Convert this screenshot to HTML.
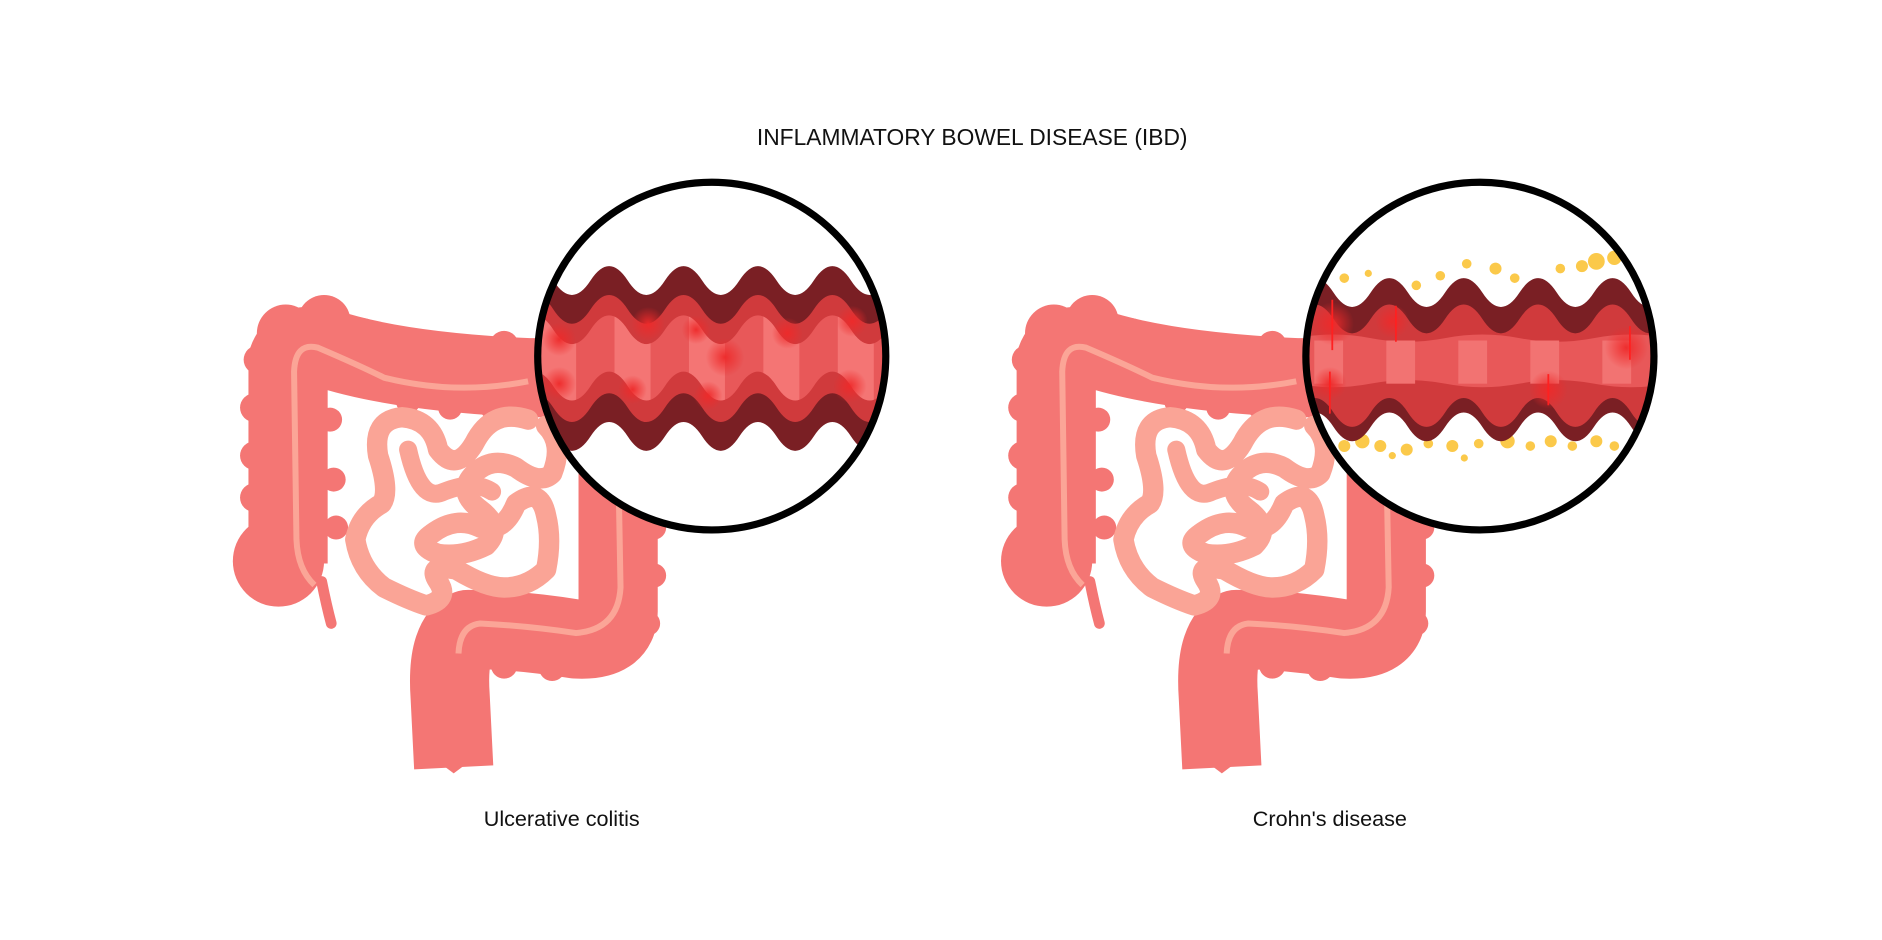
<!DOCTYPE html>
<html><head><meta charset="utf-8"><style>
html,body{margin:0;padding:0;background:#fff;width:1882px;height:940px;overflow:hidden}
svg{display:block}
</style></head><body>
<svg width="1882" height="940" viewBox="0 0 1568 784" preserveAspectRatio="none" xmlns="http://www.w3.org/2000/svg">
<defs>
<clipPath id="c1"><circle cx="593" cy="297" r="145"/></clipPath>
<clipPath id="c2"><circle cx="1233" cy="297" r="145"/></clipPath>
<clipPath id="p1"><path d="M430,275 q15.5,-24 31,0 t31,0 t31,0 t31,0 t31,0 t31,0 t31,0 t31,0 t31,0 t31,0 L740,322 q-15.5,24 -31,0 t-31,0 t-31,0 t-31,0 t-31,0 t-31,0 t-31,0 t-31,0 t-31,0 t-31,0 Z"/></clipPath>
<radialGradient id="spot"><stop offset="0" stop-color="#ee2a2a" stop-opacity="0.95"/><stop offset="1" stop-color="#ee2a2a" stop-opacity="0"/></radialGradient>
<g id="gut">
  <g fill="#f47674">
    <circle cx="232" cy="468" r="38"/>
    <circle cx="238" cy="278" r="24"/><circle cx="270" cy="268" r="22"/><circle cx="300" cy="285" r="20"/>
    <circle cx="215" cy="300" r="12"/><circle cx="212" cy="340" r="12"/><circle cx="212" cy="380" r="12"/><circle cx="212" cy="415" r="12"/>
    <circle cx="275" cy="350" r="10"/><circle cx="278" cy="400" r="10"/><circle cx="280" cy="440" r="10"/>
    <circle cx="330" cy="290" r="12"/><circle cx="360" cy="295" r="12"/><circle cx="390" cy="292" r="12"/><circle cx="420" cy="288" r="12"/>
    <circle cx="340" cy="335" r="10"/><circle cx="375" cy="340" r="10"/><circle cx="410" cy="340" r="10"/>
    <circle cx="540" cy="400" r="10"/><circle cx="545" cy="440" r="10"/><circle cx="545" cy="480" r="10"/><circle cx="540" cy="520" r="10"/>
    <circle cx="420" cy="555" r="11"/><circle cx="460" cy="557" r="11"/><circle cx="500" cy="548" r="11"/>
  </g>
  <path d="M240,470 L240,300 Q245,285 270,290 Q330,310 440,315 L500,315 Q515,340 515,380 L515,510 Q515,535 480,533 Q430,525 390,525 Q372,535 375,580 L378,640" fill="none" stroke="#f47674" stroke-width="66" stroke-linejoin="round"/>
  <path d="M352,560 Q350,610 358,630 L378,645 L398,630 Q405,610 405,560 Z" fill="#f47674"/>
  <path d="M268,485 Q272,505 276,520" stroke="#f47674" stroke-width="9" stroke-linecap="round" fill="none"/>
  <path d="M262,488 Q248,475 247,450 L245,310 Q246,285 265,290 Q300,305 320,315 Q380,330 440,318" fill="none" stroke="#fba597" stroke-width="5"/>
  <path d="M515,380 L517,490 Q515,525 480,528 Q440,522 400,520 Q383,522 382,545" fill="none" stroke="#fba597" stroke-width="5"/>
  <path d="M440,350 Q410,340 395,370 Q380,395 365,375 Q360,350 335,348 Q310,350 315,380 Q325,410 318,420 Q300,430 296,450 Q300,475 320,490 Q340,500 355,505 Q375,500 365,485 Q355,470 380,475 Q405,490 420,490 Q440,490 455,475 Q460,450 455,430 Q450,405 430,420 Q420,445 400,440 Q380,430 360,445 Q345,455 365,462 Q385,465 405,455 Q420,440 400,425 Q380,410 395,395 Q410,380 430,390 Q450,405 460,395 Q470,370 455,355" fill="none" stroke="#faa496" stroke-width="17" stroke-linejoin="round" stroke-linecap="round"/>
  <path d="M340,375 Q350,420 370,410 Q395,400 410,410" fill="none" stroke="#faa496" stroke-width="15" stroke-linecap="round"/>
</g>
</defs>

<text x="810" y="121" text-anchor="middle" font-family="Liberation Sans, sans-serif" font-size="19" fill="#111">INFLAMMATORY BOWEL DISEASE (IBD)</text>
<text x="468" y="689" text-anchor="middle" font-family="Liberation Sans, sans-serif" font-size="18" fill="#111">Ulcerative colitis</text>
<text x="1108" y="689" text-anchor="middle" font-family="Liberation Sans, sans-serif" font-size="18" fill="#111">Crohn's disease</text>

<use href="#gut"/>
<use href="#gut" transform="translate(640,0)"/>

<circle cx="593" cy="297" r="145" fill="#fff"/>
<g clip-path="url(#c1)">
  <path d="M430,234 q15.5,-24 31,0 t31,0 t31,0 t31,0 t31,0 t31,0 t31,0 t31,0 t31,0 t31,0 L740,364 q-15.5,24 -31,0 t-31,0 t-31,0 t-31,0 t-31,0 t-31,0 t-31,0 t-31,0 t-31,0 t-31,0 Z" fill="#7a1f24"/>
  <path d="M430,258 q15.5,-24 31,0 t31,0 t31,0 t31,0 t31,0 t31,0 t31,0 t31,0 t31,0 t31,0 L740,340 q-15.5,24 -31,0 t-31,0 t-31,0 t-31,0 t-31,0 t-31,0 t-31,0 t-31,0 t-31,0 t-31,0 Z" fill="#d03a3c"/>
  <path d="M430,275 q15.5,-24 31,0 t31,0 t31,0 t31,0 t31,0 t31,0 t31,0 t31,0 t31,0 t31,0 L740,322 q-15.5,24 -31,0 t-31,0 t-31,0 t-31,0 t-31,0 t-31,0 t-31,0 t-31,0 t-31,0 t-31,0 Z" fill="#e85859"/>
  <g fill="#f47574" clip-path="url(#p1)"><rect x="450" y="250" width="30" height="90"/><rect x="512" y="250" width="30" height="90"/><rect x="574" y="250" width="30" height="90"/><rect x="636" y="250" width="30" height="90"/><rect x="698" y="250" width="30" height="90"/></g>
  <g fill="url(#spot)"><circle cx="466" cy="283" r="14"/><circle cx="540" cy="270" r="14"/><circle cx="580" cy="275" r="12"/><circle cx="604" cy="298" r="16"/><circle cx="656" cy="278" r="13"/><circle cx="710" cy="268" r="13"/><circle cx="466" cy="320" r="14"/><circle cx="527" cy="325" r="12"/><circle cx="590" cy="330" r="12"/><circle cx="708" cy="322" r="14"/></g>
</g>
<circle cx="593" cy="297" r="145" fill="none" stroke="#000" stroke-width="6"/>

<circle cx="1233" cy="297" r="145" fill="#fff"/>
<g clip-path="url(#c2)">
  <g fill="#fbc94a">
    <circle cx="1120" cy="232" r="4"/><circle cx="1140" cy="228" r="3"/><circle cx="1200" cy="230" r="4"/><circle cx="1222" cy="220" r="4"/><circle cx="1246" cy="224" r="5"/><circle cx="1262" cy="232" r="4"/><circle cx="1300" cy="224" r="4"/><circle cx="1318" cy="222" r="5"/><circle cx="1330" cy="218" r="7"/><circle cx="1345" cy="215" r="6"/><circle cx="1280" cy="238" r="4"/><circle cx="1180" cy="238" r="4"/>
    <circle cx="1120" cy="372" r="5"/><circle cx="1135" cy="368" r="6"/><circle cx="1150" cy="372" r="5"/><circle cx="1172" cy="375" r="5"/><circle cx="1190" cy="370" r="4"/><circle cx="1210" cy="372" r="5"/><circle cx="1232" cy="370" r="4"/><circle cx="1256" cy="368" r="6"/><circle cx="1275" cy="372" r="4"/><circle cx="1292" cy="368" r="5"/><circle cx="1310" cy="372" r="4"/><circle cx="1330" cy="368" r="5"/><circle cx="1345" cy="372" r="4"/><circle cx="1160" cy="380" r="3"/><circle cx="1220" cy="382" r="3"/>
  </g>
  <path d="M1080,244 q15.5,-24 31,0 t31,0 t31,0 t31,0 t31,0 t31,0 t31,0 t31,0 t31,0 t31,0 L1390,356 q-15.5,24 -31,0 t-31,0 t-31,0 t-31,0 t-31,0 t-31,0 t-31,0 t-31,0 t-31,0 t-31,0 Z" fill="#7a1f24"/>
  <path d="M1080,266 q15.5,-24 31,0 t31,0 t31,0 t31,0 t31,0 t31,0 t31,0 t31,0 t31,0 t31,0 L1390,344 q-15.5,24 -31,0 t-31,0 t-31,0 t-31,0 t-31,0 t-31,0 t-31,0 t-31,0 t-31,0 t-31,0 Z" fill="#d03a3c"/>
  <path d="M1080,282 q31,-6 62,0 t62,0 t62,0 t62,0 t62,0 L1390,320 q-31,6 -62,0 t-62,0 t-62,0 t-62,0 t-62,0 Z" fill="#e85859"/>
  <g fill="#f27372"><rect x="1095" y="284" width="24" height="36"/><rect x="1155" y="284" width="24" height="36"/><rect x="1215" y="284" width="24" height="36"/><rect x="1275" y="284" width="24" height="36"/><rect x="1335" y="284" width="24" height="36"/></g>
  <g fill="url(#spot)"><circle cx="1110" cy="270" r="18"/><circle cx="1160" cy="268" r="14"/><circle cx="1290" cy="325" r="16"/><circle cx="1355" cy="290" r="18"/><circle cx="1108" cy="320" r="14"/></g>
  <g stroke="#ff2020" stroke-width="1.5"><line x1="1110" y1="250" x2="1110" y2="292"/><line x1="1163" y1="255" x2="1163" y2="285"/><line x1="1108" y1="310" x2="1108" y2="345"/><line x1="1290" y1="312" x2="1290" y2="338"/><line x1="1358" y1="272" x2="1358" y2="300"/></g>
</g>
<circle cx="1233" cy="297" r="145" fill="none" stroke="#000" stroke-width="6"/>
</svg>
</body></html>
